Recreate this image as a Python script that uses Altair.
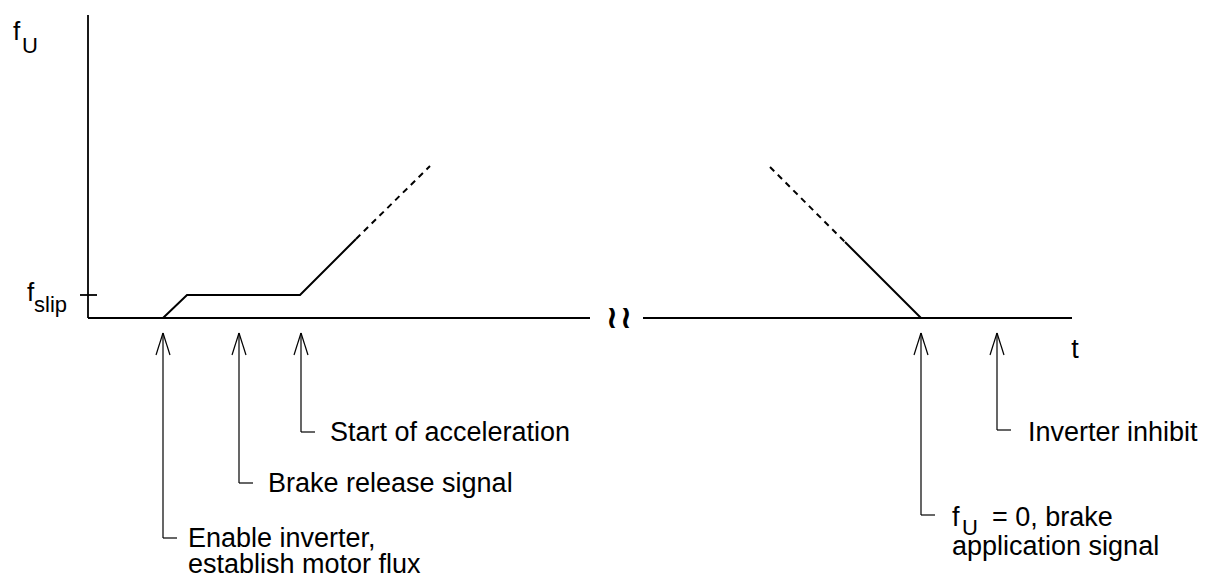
import altair as alt
import pandas as pd

# ---- diagram values (time t and frequency f in arbitrary units, origin at axes) ----
f_slip = 23
f_axis_top = 303
t_axis_left_end = 502
t_axis_right_start = 555
t_axis_right_end = 984
t_break = [524, 538]

# start-up: enable -> f_slip plateau -> acceleration (solid), continued dashed
t_start_solid = [75, 99, 212, 268]
f_start_solid = [0, 23, 23, 79]
t_start_dash = [268, 342]
f_start_dash = [79, 152]

# deceleration (dashed, then solid down to zero)
t_stop_dash = [682, 757]
f_stop_dash = [151, 76]
t_stop_solid = [757, 833]
f_stop_solid = [76, 0]

# event arrows and their labels
event_t = [75, 151, 213, 833, 909]
event_level = [-220, -165, -114, -197, -112]
label_t = [100, 180, 242, None, 940]
label_f = [-229, -174, -123, None, -123]
label_text = ["Enable inverter,", "Brake release signal", "Start of acceleration",
              None, "Inverter inhibit"]
label2_f = [-255, None, None, -237, None]
label2_text = ["establish motor flux", None, None, "application signal", None]

FONT = "Liberation Sans"
FS = 27
FS_F = 26
FS_SUB = 22

# ---- build tables ----
rules = []
def seg(x, y, x2, y2, kind):
    rules.append(dict(x=x, y=y, x2=x2, y2=y2, kind=kind))

seg(0, 0, 0, f_axis_top, "axis")
seg(0, 0, t_axis_left_end, 0, "axis")
seg(t_axis_right_start, 0, t_axis_right_end, 0, "axis")
seg(-8, f_slip, 9, f_slip, "axis")

tip = -15
head_h = 22
head_w = 7
foot = 14
for t, lv in zip(event_t, event_level):
    seg(t, tip, t, lv, "arrow")
    seg(t - head_w, tip - head_h, t, tip, "arrow")
    seg(t + head_w, tip - head_h, t, tip, "arrow")
    seg(t, lv, t + foot, lv, "arrow")
rules_df = pd.DataFrame(rules)

lines = []
for sid, (ts, fs, style) in enumerate([
        (t_start_solid, f_start_solid, "solid"),
        (t_start_dash, f_start_dash, "dash"),
        (t_stop_dash, f_stop_dash, "dash"),
        (t_stop_solid, f_stop_solid, "solid")]):
    for i, (t, f) in enumerate(zip(ts, fs)):
        lines.append(dict(t=t, f=f, sid=sid, o=i, style=style))
lines_df = pd.DataFrame(lines)

texts = []
for tt, ff, a, f2, b in zip(label_t, label_f, label_text, label2_f, label2_text):
    if a:
        texts.append(dict(t=tt, f=ff, label=a))
    if b:
        texts.append(dict(t=tt if tt is not None else 864, f=f2, label=b))
text_df = pd.DataFrame(texts)

# "f_U = 0, brake" with subscript
fu_main = pd.DataFrame([dict(t=864, f=-208, label="f"),
                        dict(t=904, f=-208, label="= 0, brake")])
sub_df = pd.DataFrame([dict(t=874, f=-217, label="U"),
                       dict(t=-66, f=265, label="U"),
                       dict(t=-54, f=6, label="slip")])
f_df = pd.DataFrame([dict(t=-75, f=278, label="f"),
                     dict(t=-61, f=17, label="f")])
t_label = pd.DataFrame([dict(t=987, f=-32, label="t")])
brk = pd.DataFrame([dict(t=t, f=0, label="≀") for t in t_break])

xs = alt.Scale(domain=[-80, 1119], nice=False, zero=False)
ys = alt.Scale(domain=[-259, 310], nice=False, zero=False)

def X(field):
    return alt.X(field, type="quantitative", scale=xs, axis=None)
def Y(field):
    return alt.Y(field, type="quantitative", scale=ys, axis=None)

axis_layer = alt.Chart(rules_df[rules_df.kind == "axis"]).mark_rule(
    color="black", strokeWidth=1.8).encode(
    x=X("x"), y=Y("y"), x2="x2", y2="y2")
arrow_layer = alt.Chart(rules_df[rules_df.kind == "arrow"]).mark_rule(
    color="black", strokeWidth=1.2).encode(
    x=X("x"), y=Y("y"), x2="x2", y2="y2")
solid_layer = alt.Chart(lines_df[lines_df["style"] == "solid"]).mark_line(
    color="black", strokeWidth=2).encode(
    x=X("t"), y=Y("f"), detail="sid:N", order="o:Q")
dash_layer = alt.Chart(lines_df[lines_df["style"] == "dash"]).mark_line(
    color="black", strokeWidth=2, strokeDash=[6, 5]).encode(
    x=X("t"), y=Y("f"), detail="sid:N", order="o:Q")

def txt(df, size, align="left", baseline="alphabetic", font=FONT, weight="normal"):
    return alt.Chart(df).mark_text(
        align=align, baseline=baseline, font=font, fontSize=size,
        fontWeight=weight, color="black").encode(
        x=X("t"), y=Y("f"), text="label:N")

layers = [axis_layer, arrow_layer, solid_layer, dash_layer,
          txt(text_df, FS), txt(fu_main, FS), txt(sub_df, FS_SUB), txt(f_df, FS_F),
          txt(t_label, FS, align="center", baseline="middle"),
          txt(brk, 32, align="center", baseline="middle", font="DejaVu Sans", weight="bold")]

chart = alt.layer(*layers).properties(
    width=1199, height=569, padding=0, autosize="none", background="white"
).configure_view(stroke=None)

chart.save("out.html", embed_options={"renderer": "svg", "actions": False})
